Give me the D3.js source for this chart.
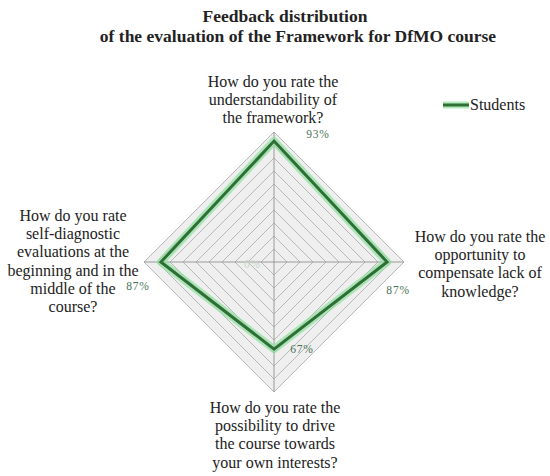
<!DOCTYPE html>
<html lang="en">
<head>
<meta charset="UTF-8">
<title>Feedback distribution</title>
<script src="https://d3js.org/d3.v7.min.js"></script>
<style>
    body { margin: 0; background: #fff; }
    svg text { font-family: 'Liberation Serif', 'DejaVu Serif', 'Times New Roman', Times, serif; fill: #222; }
    .title { font-weight: bold; font-size: 17.5px; }
    .axis-label { font-size: 16px; }
    .value-label { font-size: 11.5px; fill: #4a7356; letter-spacing: 0.8px; }
</style>
</head>
<body>
<svg id="chart"></svg>
<script>
    // Данные
    const questions = [
        ["How do you rate the", "understandability of", "the framework?"],
        ["How do you rate the", "opportunity to", "compensate lack of", "knowledge?"],
        ["How do you rate the", "possibility to drive", "the course towards", "your own interests?"],
        ["How do you rate", "self-diagnostic", "evaluations at the", "beginning and in the", "middle of the", "course?"]
    ];
    const students = [0.93, 0.87, 0.67, 0.87];
    const gridLevels = [0.1, 0.2, 0.3, 0.4, 0.5, 0.6, 0.7, 0.8, 0.9, 1.0];
    const titleLines = ["Feedback distribution", "of the evaluation of the Framework for DfMO course"];
    const seriesName = "Students";

    const width = 550, height = 476;
    const center = { x: 274, y: 262 };
    const R = 130;

    const svg = d3.select("#chart").attr("width", width).attr("height", height);

    const r = d3.scaleLinear().domain([0, 1]).range([0, R]);
    const angle = d3.scaleLinear().domain([0, questions.length]).range([0, 2 * Math.PI]);

    const g = svg.append("g").attr("transform", `translate(${center.x},${center.y})`);

    const pt = (i, v) => [Math.sin(angle(i)) * r(v), -Math.cos(angle(i)) * r(v)];

    // Сетка
    const radial = d3.lineRadial()
        .angle((d, i) => angle(i))
        .radius(d => r(d))
        .curve(d3.curveLinearClosed);

    g.append("path")
        .attr("d", radial(questions.map(() => 1)))
        .attr("fill", "#efefef");

    g.selectAll(".grid")
        .data(gridLevels)
        .join("path")
        .attr("class", "grid")
        .attr("d", lv => radial(questions.map(() => lv)))
        .attr("fill", "none")
        .attr("stroke", "#b8b8b8")
        .attr("stroke-width", 1);

    g.selectAll(".axis")
        .data(questions)
        .join("line")
        .attr("class", "axis")
        .attr("x1", 0).attr("y1", 0)
        .attr("x2", (d, i) => pt(i, 1)[0])
        .attr("y2", (d, i) => pt(i, 1)[1])
        .attr("stroke", "#9a9a9a")
        .attr("stroke-width", 1);

    g.append("text")
        .attr("class", "value-label")
        .attr("x", -30).attr("y", 6)
        .style("fill", "#c8d8cc")
        .text("0%");

    // Линия данных (со свечением)
    g.append("path")
        .attr("d", radial(students))
        .attr("fill", "none")
        .attr("stroke", "#8fe0a0")
        .attr("stroke-opacity", 0.7)
        .attr("stroke-width", 8)
        .attr("stroke-linejoin", "round");

    g.append("path")
        .attr("d", radial(students))
        .attr("fill", "none")
        .attr("stroke", "#2f6f35")
        .attr("stroke-width", 3)
        .attr("stroke-linejoin", "miter");

    // Подписи значений
    const valueOffsets = [[44, -3], [11, 32], [28, 4], [-23, 28]];
    g.selectAll(".vl")
        .data(students)
        .join("text")
        .attr("class", "value-label")
        .attr("text-anchor", "middle")
        .attr("x", (d, i) => pt(i, d)[0] + valueOffsets[i][0])
        .attr("y", (d, i) => pt(i, d)[1] + valueOffsets[i][1])
        .text(d => Math.round(d * 100) + "%");

    // Подписи осей
    const labelPos = [
        { x: 273, y: 87 },
        { x: 480, y: 242 },
        { x: 275, y: 413 },
        { x: 73, y: 221 }
    ];
    const lineH = 18.2;
    svg.selectAll(".axis-label")
        .data(questions)
        .join("text")
        .attr("class", "axis-label")
        .attr("text-anchor", "middle")
        .each(function (lines, i) {
            d3.select(this).selectAll("tspan")
                .data(lines)
                .join("tspan")
                .attr("x", labelPos[i].x)
                .attr("y", (l, k) => labelPos[i].y + k * lineH)
                .text(l => l);
        });

    // Заголовок
    svg.selectAll(".title")
        .data(titleLines)
        .join("text")
        .attr("class", "title")
        .attr("text-anchor", "middle")
        .attr("x", (d, i) => i === 0 ? 285 : 298)
        .attr("y", (d, i) => 22 + i * 20)
        .text(d => d);

    // Легенда
    const legend = svg.append("g").attr("transform", "translate(443,105)");
    legend.append("line")
        .attr("x1", 0).attr("x2", 26)
        .attr("stroke", "#8fe0a0").attr("stroke-opacity", 0.7).attr("stroke-width", 7);
    legend.append("line")
        .attr("x1", 0).attr("x2", 26)
        .attr("stroke", "#2f6f35").attr("stroke-width", 3);
    legend.append("text")
        .attr("class", "axis-label")
        .attr("x", 27).attr("y", 5)
        .text(seriesName);
</script>
</body>
</html>
